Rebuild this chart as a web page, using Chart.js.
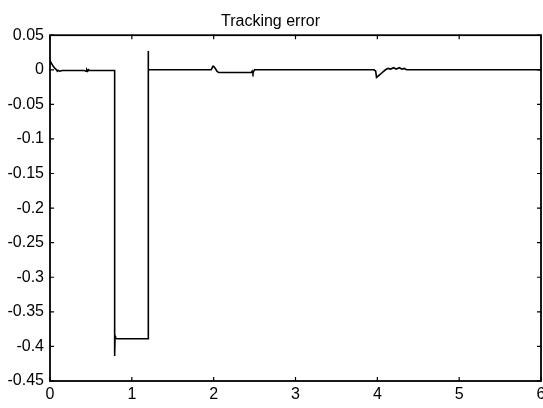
<!DOCTYPE html>
<html><head><meta charset="utf-8">
<script src="https://cdn.jsdelivr.net/npm/chart.js@4/dist/chart.umd.min.js"></script>
<style>html,body{margin:0;padding:0;background:#fff;overflow:hidden}#c{display:block}</style>
</head><body>
<canvas id="c" width="543" height="408"></canvas>
<script>
const titleText = "Tracking error";
const xTickValues = [0, 1, 2, 3, 4, 5, 6];
const yTickValues = [0.05, 0, -0.05, -0.1, -0.15, -0.2, -0.25, -0.3, -0.35, -0.4, -0.45];
const time = [0, 0.01, 0.02, 0.04, 0.06, 0.08, 0.09, 0.1, 0.12, 0.15, 0.2, 0.3, 0.42, 0.44, 0.45, 0.46, 0.47, 0.48, 0.6, 0.79, 0.79, 0.795, 0.80, 0.82, 1.0, 1.2, 1.2, 1.203, 1.21, 1.5, 1.8, 1.97, 1.99, 2.0, 2.02, 2.04, 2.06, 2.1, 2.3, 2.46, 2.47, 2.48, 2.49, 2.5, 2.52, 3.0, 3.5, 3.96, 3.98, 3.99, 4.02, 4.05, 4.08, 4.1, 4.13, 4.16, 4.2, 4.23, 4.27, 4.3, 4.33, 4.34, 4.36, 5.0, 5.5, 6.0];
const trackErr = [0.01, 0.011, 0.009, 0.005, 0.002, 0.0, -0.002, -0.001, -0.002, -0.001, -0.001, -0.001, -0.001, -0.002, 0.0, -0.002, 0.0, -0.001, -0.001, -0.001, -0.414, -0.385, -0.388, -0.389, -0.389, -0.389, 0.027, 0.001, 0.0, 0.0, 0.0, 0.0, 0.005, 0.005, 0.002, -0.002, -0.004, -0.004, -0.004, -0.004, -0.002, -0.005, -0.002, 0.0, 0.0, 0.0, 0.0, 0.0, -0.002, -0.011, -0.008, -0.005, -0.002, 0.0, 0.002, 0.001, 0.003, 0.001, 0.003, 0.001, 0.002, 0.001, 0.0, 0.0, 0.0, 0.0];

const pts = time.map((t, i) => ({x: t, y: trackErr[i]}));
const FONT = "'Liberation Sans', Arial, sans-serif";

const boxPlugin = {
  id: 'box',
  afterDatasetsDraw(chart) {
    const {ctx, chartArea: a, scales: {x, y}} = chart;
    ctx.save();
    ctx.strokeStyle = '#000';
    ctx.lineWidth = 1.8;
    ctx.strokeRect(a.left, a.top, a.right - a.left, a.bottom - a.top);
    ctx.lineWidth = 1.2;
    const L = 4;
    ctx.beginPath();
    xTickValues.forEach(v => {
      const px = x.getPixelForValue(v);
      ctx.moveTo(px, a.bottom); ctx.lineTo(px, a.bottom - L);
      ctx.moveTo(px, a.top); ctx.lineTo(px, a.top + L);
    });
    yTickValues.forEach(v => {
      const py = y.getPixelForValue(v);
      ctx.moveTo(a.left, py); ctx.lineTo(a.left + L, py);
      ctx.moveTo(a.right, py); ctx.lineTo(a.right - L, py);
    });
    ctx.stroke();
    ctx.restore();
  }
};

new Chart(document.getElementById('c'), {
  type: 'line',
  data: {datasets: [{data: pts, borderColor: '#000', borderWidth: 1.6, pointRadius: 0, tension: 0, fill: false}]},
  options: {
    responsive: false,
    animation: false,
    events: [],
    layout: {padding: {left: 0, right: 2, top: 12, bottom: 0}},
    plugins: {
      legend: {display: false},
      tooltip: {enabled: false},
      title: {display: true, text: titleText, color: '#000', font: {family: FONT, size: 16, weight: 'normal'}, padding: {top: 0, bottom: 4}}
    },
    scales: {
      x: {
        type: 'linear', min: 0, max: 6,
        afterBuildTicks: s => { s.ticks = xTickValues.map(v => ({value: v})); },
        afterFit: s => { s.height = 27; s.paddingLeft = 0; s.paddingRight = 0; },
        grid: {display: false, drawTicks: false},
        border: {display: false},
        ticks: {color: '#000', font: {family: FONT, size: 16}, padding: 4, maxRotation: 0, autoSkip: false, callback: v => String(v)}
      },
      y: {
        type: 'linear', min: -0.45, max: 0.05,
        afterBuildTicks: s => { s.ticks = yTickValues.map(v => ({value: v})); },
        afterFit: s => { s.width = 50; s.paddingTop = 0; s.paddingBottom = 0; },
        grid: {display: false, drawTicks: false},
        border: {display: false},
        ticks: {color: '#000', font: {family: FONT, size: 16}, padding: 6, autoSkip: false, callback: v => String(Math.round(v * 100) / 100)}
      }
    }
  },
  plugins: [boxPlugin]
});
</script>
</body></html>
